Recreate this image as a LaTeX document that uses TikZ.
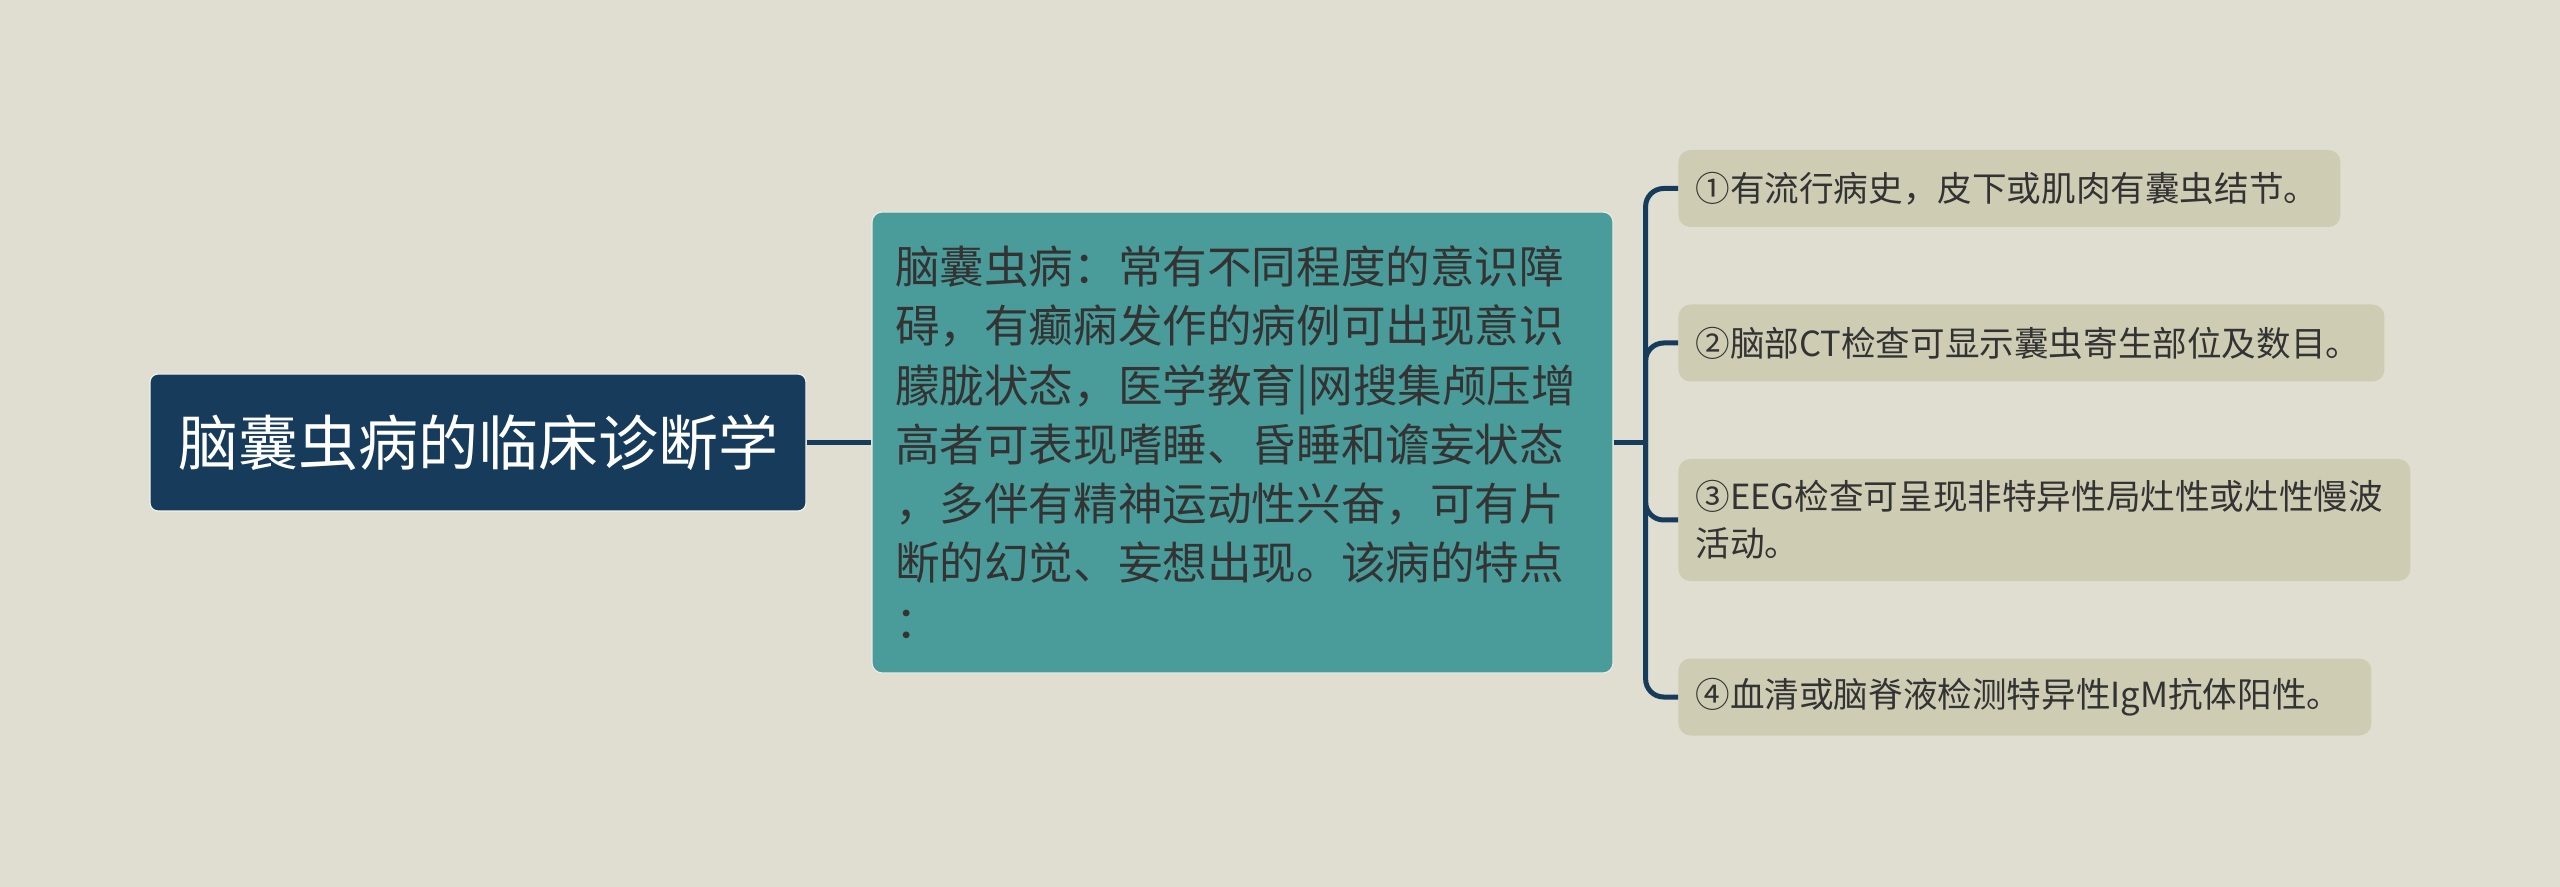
\documentclass[tikz,border=0pt]{standalone}
\usepackage{fontspec}
\setmainfont{Noto Sans CJK SC}
\usetikzlibrary{calc}
\definecolor{bgpaper}{HTML}{E0DED0}
\definecolor{navy}{HTML}{173B5A}
\definecolor{midteal}{HTML}{4A9C9A}
\definecolor{leafgrey}{HTML}{CFCCB4}
\definecolor{inktext}{HTML}{333333}
\tikzstyle{rootbox}=[fill=navy, draw=white!60!bgpaper, line width=0.6pt, rounded corners=4pt,
                     text=white, minimum width=328pt, minimum height=68.5pt,
                     font=\fontsize{30}{36}\selectfont]
\tikzstyle{midbox}=[fill=midteal, draw=white!40!bgpaper, line width=0.6pt, rounded corners=5pt,
                    text=inktext, text width=347.5pt, inner xsep=11.5pt, align=left,
                    minimum height=230.5pt, font=\fontsize{22.3}{29.6}\selectfont]
\tikzstyle{leafbox}=[fill=leafgrey, rounded corners=6pt, text=inktext, anchor=west,
                     inner xsep=8.5pt, align=left, minimum height=38.5pt,
                     font=\fontsize{17.3}{23.5}\selectfont]
\tikzstyle{link}=[navy, line width=2.5pt, rounded corners=9pt]

\begin{document}
\begin{tikzpicture}[x=0.5pt, y=-0.5pt]

  % Background
  \fill[bgpaper] (0,0) rectangle (2560,887);
  \useasboundingbox (0,0) rectangle (2560,887);

  % Nodes
  \node[rootbox] at (478,442.5) (root) {脑囊虫病的临床诊断学};
  \node[midbox] at (1242.5,442.5) (mid) {脑囊虫病：常有不同程度的意识障\\
    碍，有癫痫发作的病例可出现意识\\
    朦胧状态，医学教育|网搜集颅压增\\
    高者可表现嗜睡、昏睡和谵妄状态\\
    ，多伴有精神运动性兴奋，可有片\\
    断的幻觉、妄想出现。该病的特点\\
    ：};
  \node[leafbox, text width=314pt] at (1678,188.5) (sign1) {①有流行病史，皮下或肌肉有囊虫结节。};
  \node[leafbox, text width=336pt] at (1678,343) (sign2) {②脑部CT检查可显示囊虫寄生部位及数目。};
  \node[leafbox, text width=349pt, minimum height=61pt] at (1678,520) (sign3)
    {③EEG检查可呈现非特异性局灶性或灶性慢波\\活动。};
  \node[leafbox, text width=329.5pt] at (1678,697) (sign4) {④血清或脑脊液检测特异性IgM抗体阳性。};

  % Connectors
  \coordinate (fork) at ($(mid.east)+(16pt,0)$);
  \draw[link] (root.east) -- (mid.west);
  \draw[link] (mid.east) -- (fork);
  \draw[link] (fork) |- (sign1.west);
  \draw[link] (fork) |- (sign2.west);
  \draw[link] (fork) |- (sign3.west);
  \draw[link] (fork) |- (sign4.west);

\end{tikzpicture}
\end{document}
